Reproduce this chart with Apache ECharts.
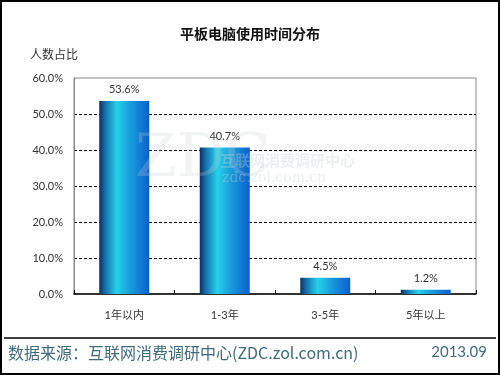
<!DOCTYPE html>
<html><head><meta charset="utf-8">
<script src="https://cdn.jsdelivr.net/npm/echarts@6/dist/echarts.min.js"></script>
<style>html,body{margin:0;padding:0;background:#fff}#c{width:500px;height:375px}</style>
</head><body><div id="c"></div>
<script>
var categories = ['1年以内', '1-3年', '3-5年', '5年以上'];
var values = [53.6, 40.7, 4.5, 1.2];
var yTicks = [0, 10, 20, 30, 40, 50, 60];
var titleText = '平板电脑使用时间分布';
var yName = '人数占比';
var sourceText = '数据来源：互联网消费调研中心(ZDC.zol.com.cn)';
var dateText = '2013.09';

var chart = echarts.init(document.getElementById('c'), null, {renderer: 'canvas'});
var barColor = new echarts.graphic.LinearGradient(0, 0, 1, 0, [
  {offset: 0, color: '#0b2f5e'},
  {offset: 0.12, color: '#1570b0'},
  {offset: 0.35, color: '#25d2ea'},
  {offset: 0.6, color: '#1aa0dc'},
  {offset: 1, color: '#0b5fcc'}
]);
var font = 'Lato, "Noto Sans", "Noto Sans CJK SC", sans-serif';
chart.setOption({
  backgroundColor: '#fff',
  animation: false,
  title: {
    text: titleText, left: 'center', top: 22,
    textStyle: {fontSize: 14, fontWeight: 'bold', color: '#111', fontFamily: '"Noto Sans CJK SC", sans-serif'}
  },
  grid: {left: 74, right: 24, top: 78, bottom: 81, show: true, borderColor: '#888', borderWidth: 1},
  xAxis: {
    type: 'category', data: categories,
    axisLine: {lineStyle: {color: '#000', width: 1.5}},
    axisTick: {show: true, inside: true, length: 4, lineStyle: {color: '#000'}},
    axisLabel: {margin: 16, fontSize: 11, color: '#333', fontFamily: font}
  },
  yAxis: {
    type: 'value', min: yTicks[0], max: yTicks[yTicks.length - 1], interval: 10,
    name: yName, nameLocation: 'end', nameGap: 18,
    nameTextStyle: {align: 'right', padding: [0, -4, 0, 0], fontSize: 12, color: '#333', fontFamily: '"Noto Sans CJK SC", sans-serif'},
    axisLine: {show: true, lineStyle: {color: '#888'}},
    axisTick: {show: false},
    axisLabel: {margin: 11, fontSize: 11, color: '#333', fontFamily: font,
      formatter: function (v) { return v.toFixed(1) + '%'; }},
    splitLine: {show: true, showMinLine: false, showMaxLine: false, lineStyle: {color: '#000', type: [3, 2], width: 1}}
  },
  graphic: [
    {type: 'rect', shape: {x: 1, y: 1, width: 498, height: 373}, style: {fill: 'none', stroke: '#000', lineWidth: 2}, z: 100},
    {type: 'line', shape: {x1: 4, y1: 338, x2: 496, y2: 338}, style: {stroke: '#000', lineWidth: 1.5}},
    {type: 'text', left: 8, top: 345, style: {text: sourceText, fontSize: 16, fill: '#3d6b7c', fontFamily: '"Noto Sans CJK SC", sans-serif'}},
    {type: 'text', right: 13, top: 345, style: {text: dateText, fontSize: 15, fill: '#3d6b7c', fontFamily: font}},
    {type: 'text', left: 135, top: 130, style: {text: 'ZDC', fontSize: 60, fill: 'rgba(200,208,212,0.25)', fontFamily: '"DejaVu Serif", serif'}, z: 50},
    {type: 'text', left: 220, top: 153, style: {text: '互联网消费调研中心', fontSize: 15, fontWeight: 'bold', fill: 'rgba(200,208,212,0.35)', fontFamily: '"Noto Sans CJK SC", sans-serif'}, z: 50},
    {type: 'text', left: 222, top: 171, style: {text: 'zdc.zol.com.cn', fontSize: 14, fill: 'rgba(200,208,212,0.35)', fontFamily: '"DejaVu Serif", serif'}, z: 50}
  ],
  series: [{
    type: 'bar', data: values, barWidth: 50,
    itemStyle: {color: barColor},
    label: {show: true, position: 'top', distance: 6, fontSize: 11, color: '#333', fontFamily: font,
      formatter: function (p) { return p.value.toFixed(1) + '%'; }}
  }]
});
</script></body></html>
